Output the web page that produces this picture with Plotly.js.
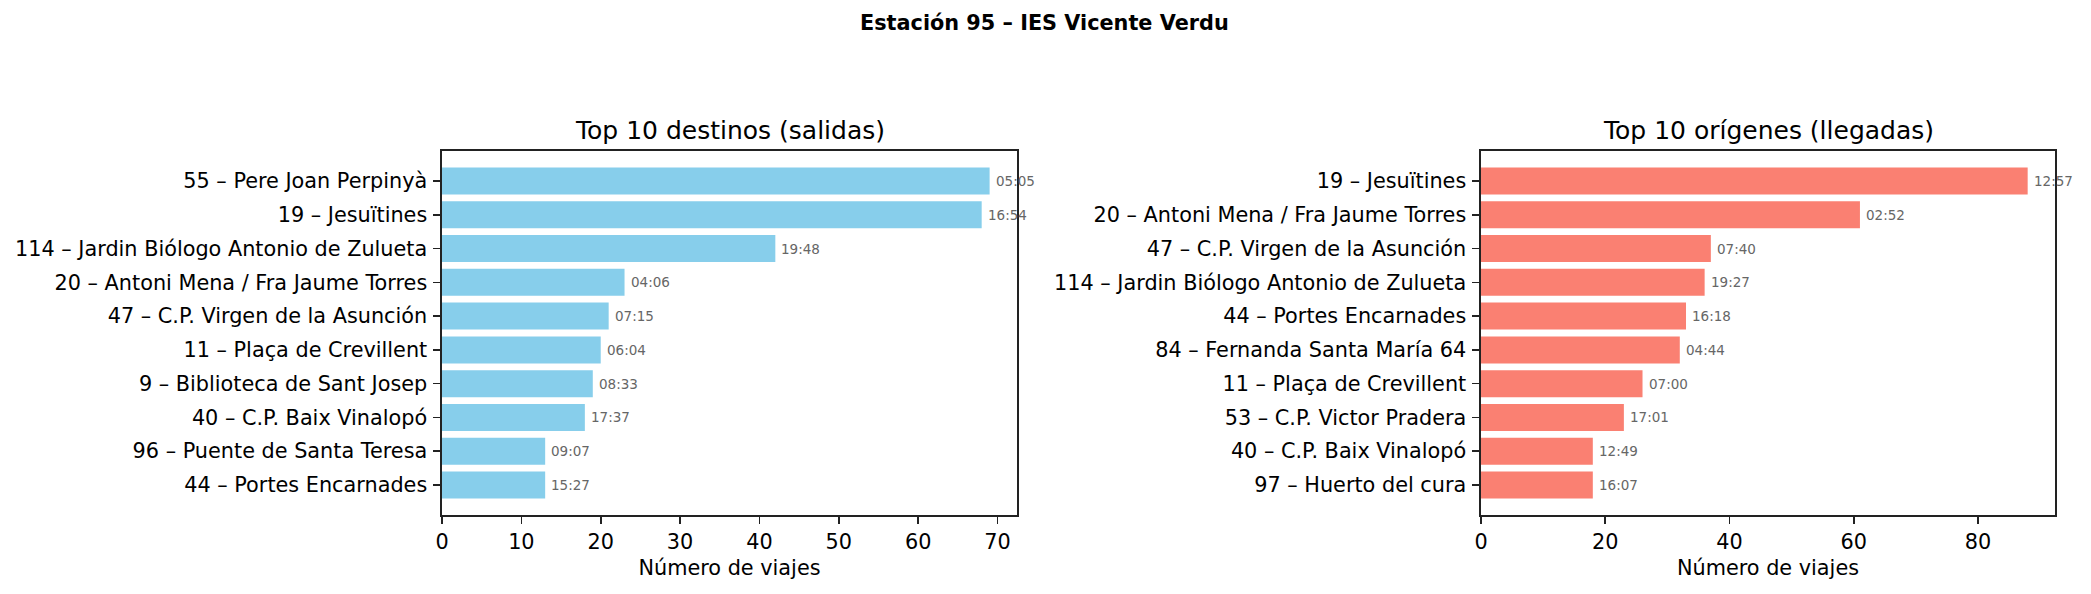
<!DOCTYPE html>
<html>
<head>
<meta charset="utf-8">
<script src="https://cdn.plot.ly/plotly-3.0.1.min.js"></script>
<style>html,body{margin:0;padding:0;background:#fff;}#chart{width:2091px;height:594px;}</style>
</head>
<body>
<div id="chart"></div>
<script>
// Left panel: Top 10 destinos (salidas)
const destinosLabels = [
  "55 – Pere Joan Perpinyà",
  "19 – Jesuïtines",
  "114 – Jardin Biólogo Antonio de Zulueta",
  "20 – Antoni Mena / Fra Jaume Torres",
  "47 – C.P. Virgen de la Asunción",
  "11 – Plaça de Crevillent",
  "9 – Biblioteca de Sant Josep",
  "40 – C.P. Baix Vinalopó",
  "96 – Puente de Santa Teresa",
  "44 – Portes Encarnades"
];
const destinosValues = [69, 68, 42, 23, 21, 20, 19, 18, 13, 13];
const destinosTimes = ["05:05", "16:54", "19:48", "04:06", "07:15", "06:04", "08:33", "17:37", "09:07", "15:27"];

// Right panel: Top 10 orígenes (llegadas)
const origenesLabels = [
  "19 – Jesuïtines",
  "20 – Antoni Mena / Fra Jaume Torres",
  "47 – C.P. Virgen de la Asunción",
  "114 – Jardin Biólogo Antonio de Zulueta",
  "44 – Portes Encarnades",
  "84 – Fernanda Santa María 64",
  "11 – Plaça de Crevillent",
  "53 – C.P. Victor Pradera",
  "40 – C.P. Baix Vinalopó",
  "97 – Huerto del cura"
];
const origenesValues = [88, 61, 37, 36, 33, 32, 26, 23, 18, 18];
const origenesTimes = ["12:57", "02:52", "07:40", "19:27", "16:18", "04:44", "07:00", "17:01", "12:49", "16:07"];

const xTicksLeft = [0, 10, 20, 30, 40, 50, 60, 70];
const xTicksRight = [0, 20, 40, 60, 80];

const FONT = "DejaVu Sans, sans-serif";
const W = 2091, H = 594;

function barTrace(labels, values, color, xa, ya) {
  return {
    type: "bar", orientation: "h",
    x: values, y: labels,
    xaxis: xa, yaxis: ya,
    width: 0.8,
    marker: {color: color, line: {width: 0}},
    hoverinfo: "skip"
  };
}

function valueLabels(labels, values, times, xa, ya) {
  return labels.map((lab, i) => ({
    text: times[i], x: values[i], y: lab, xref: xa, yref: ya,
    xanchor: "left", yanchor: "middle", xshift: 4, showarrow: false,
    font: {family: FONT, size: 13.5, color: "#666666"}
  }));
}

const lineColor = "#222222";
function xAxis(domain, ticks, maxVal, anchor) {
  return {
    domain: domain, anchor: anchor,
    range: [0, maxVal * 1.05],
    tickmode: "array", tickvals: ticks, ticktext: ticks.map(String),
    ticks: "outside", ticklen: 7, tickwidth: 1.6, tickcolor: lineColor,
    showline: true, linecolor: lineColor, linewidth: 1.6, mirror: true,
    showgrid: false, zeroline: false,
    tickfont: {family: FONT, size: 20.8, color: "#000"},
    title: {text: "Número de viajes", font: {family: FONT, size: 20.8, color: "#000"}, standoff: 8},
    fixedrange: true
  };
}
function yAxis(domain, labels, anchor) {
  const n = labels.length;
  const lo = -0.4 - 0.05 * (n - 0.2), hi = (n - 1) + 0.4 + 0.05 * (n - 0.2);
  return {
    domain: domain, anchor: anchor,
    type: "category", categoryorder: "array", categoryarray: labels,
    range: [hi, lo],
    ticks: "outside", ticklen: 7, tickwidth: 1.6, tickcolor: lineColor,
    showline: true, linecolor: lineColor, linewidth: 1.6, mirror: true,
    showgrid: false, zeroline: false,
    tickfont: {family: FONT, size: 20.8, color: "#000"},
    ticklabelstandoff: 2,
    fixedrange: true
  };
}

const yDom = [1 - 515 / H, 1 - 151 / H];
const layout = {
  width: W, height: H,
  margin: {l: 0, r: 0, t: 0, b: 0},
  paper_bgcolor: "#fff", plot_bgcolor: "#fff",
  showlegend: false,
  font: {family: FONT},
  xaxis: xAxis([442 / W, 1017 / W], xTicksLeft, Math.max(...destinosValues), "y"),
  yaxis: yAxis(yDom, destinosLabels, "x"),
  xaxis2: xAxis([1481 / W, 2055 / W], xTicksRight, Math.max(...origenesValues), "y2"),
  yaxis2: yAxis(yDom, origenesLabels, "x2"),
  annotations: [
    {text: "<b>Estación 95 – IES Vicente Verdu</b>", xref: "paper", yref: "paper",
     x: 0.4995, y: 1 - 23 / H, xanchor: "center", yanchor: "middle", showarrow: false,
     font: {family: FONT, size: 20.8, color: "#000"}},
    {text: "Top 10 destinos (salidas)", xref: "x domain", yref: "paper",
     x: 0.5, y: 1 - 130 / H, xanchor: "center", yanchor: "middle", showarrow: false,
     font: {family: FONT, size: 25, color: "#000"}},
    {text: "Top 10 orígenes (llegadas)", xref: "x2 domain", yref: "paper",
     x: 0.5, y: 1 - 130 / H, xanchor: "center", yanchor: "middle", showarrow: false,
     font: {family: FONT, size: 25, color: "#000"}}
  ].concat(
    valueLabels(destinosLabels, destinosValues, destinosTimes, "x", "y"),
    valueLabels(origenesLabels, origenesValues, origenesTimes, "x2", "y2")
  )
};

const data = [
  barTrace(destinosLabels, destinosValues, "#87CEEB", "x", "y"),
  barTrace(origenesLabels, origenesValues, "#FA8072", "x2", "y2")
];

Plotly.newPlot("chart", data, layout, {displayModeBar: false, staticPlot: true});
</script>
</body>
</html>
